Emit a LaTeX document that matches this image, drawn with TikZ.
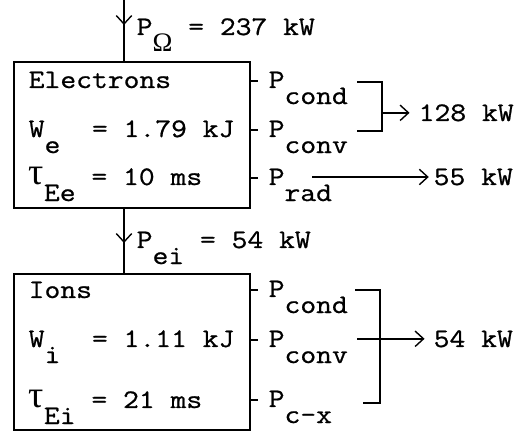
\documentclass[tikz,border=0pt]{standalone}
\usepackage{fontspec}
\newfontfamily\maq{Latin Modern Mono}[FakeStretch=1.15,FakeBold=0.8]
\newfontfamily\gr{Liberation Serif}
\usetikzlibrary{arrows.meta}
\newcommand\lo[1]{\raisebox{-0.6em}{#1}}
\newcommand\tautw{{\gr\fontsize{27}{27}\selectfont τ}}

\begin{document}
\begin{tikzpicture}[x=0.025cm,y=-0.025cm,line width=1pt,
  txt/.style={anchor=base west,inner sep=0pt,font=\maq\fontsize{19}{22}\selectfont},
  caja/.style={draw,line width=1.5pt,inner sep=0pt,minimum width=5.9cm},
  flecha/.style={-{Straight Barb[length=6pt,width=11pt]}}]
  \useasboundingbox (0,0) rectangle (528,432);
  % caja electrones (x 14..250, y 62..208)
  \node[caja,minimum height=3.65cm] (elec) at (132,135) {};
  \node[txt] (elab) at (28,88) {Electrons};
  \node[txt] (we) at (28,137) {W\lo{e}~~= 1.79 kJ};
  \node[txt] (te) at (28,185) {\tautw\lo{Ee} = 10 ms};
  % caja iones (x 14..250, y 274..430)
  \node[caja,minimum height=3.9cm] (ions) at (132,352) {};
  \node[txt] (ilab) at (28,298) {Ions};
  \node[txt] (wi) at (28,347) {W\lo{i}~~= 1.11 kJ};
  \node[txt] (ti) at (28,408) {\tautw\lo{Ei} = 21 ms};
  % potencia ohmica y de intercambio
  \coordinate (top) at (124,0);
  \node[txt] (pohm) at (136,35) {P\lo{\gr Ω} = 237 kW};
  \draw (top) -- (top |- elec.north);
  \draw[flecha] (top) -- (124,25);
  \node[txt] (pei) at (136,248) {P\lo{ei} = 54 kW};
  \draw (elec.south -| top) -- (ions.north -| top);
  \draw[flecha] (elec.south -| top) -- (124,243);
  % perdidas electrones
  \foreach \y/\s [count=\i] in {88/cond,137/conv,185/rad} {
    \draw (250,\y-7) -- (258,\y-7);
    \node[txt] (pe\i) at (268,\y) {P\lo{\s}};
  }
  \coordinate (be) at (382,82);
  \draw (357,82) -- (be) -- (382,131) -- (357,131);
  \node[txt] (qe) at (418,121) {128 kW};
  \draw[flecha,shorten >=6pt] (qe.west -| be) -- (qe.west);
  \coordinate (rs) at (312,178);
  \node[txt] (qr) at (433,185) {55 kW};
  \draw[flecha,shorten >=3pt] (qr.west -| rs) -- (qr.west);
  % perdidas iones
  \foreach \y/\s [count=\i] in {297/cond,347/conv,407/c-x} {
    \draw (250,\y-7) -- (258,\y-7);
    \node[txt] (pi\i) at (268,\y) {P\lo{\s}};
  }
  \draw (355,290) -- (380,290) -- (380,403) -- (363,403);
  \coordinate (cs) at (357,340);
  \node[txt] (qi) at (433,347) {54 kW};
  \draw[flecha,shorten >=6pt] (qi.west -| cs) -- (qi.west);
\end{tikzpicture}
\end{document}
